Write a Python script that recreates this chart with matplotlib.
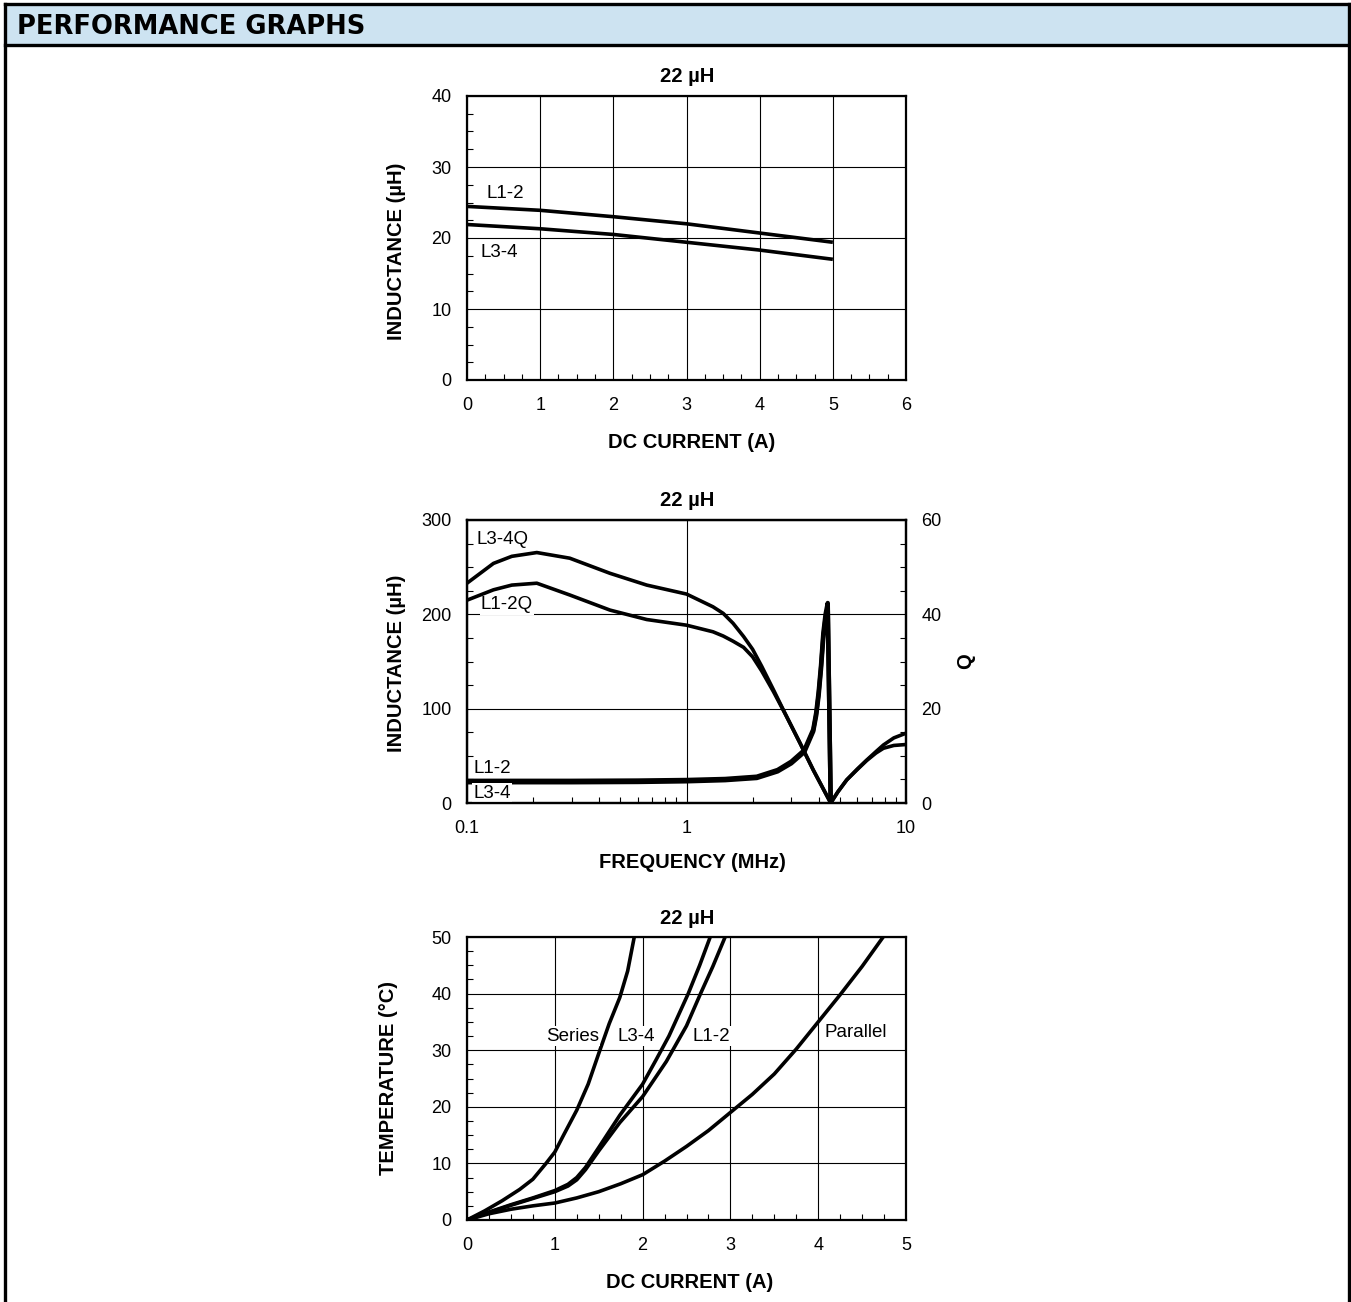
import numpy as np
from matplotlib import pyplot as plt
from matplotlib.ticker import MultipleLocator, FixedLocator, NullFormatter, LogLocator, FuncFormatter

plt.rcParams['font.family'] = ['Liberation Sans', 'DejaVu Sans']

W, H = 1351, 1302

# --- inductance vs dc current ---
idc = [0, 1, 2, 3, 4, 5]
ind_l12 = [24.45, 23.9, 23.0, 22.0, 20.7, 19.4]
ind_l34 = [21.9, 21.3, 20.5, 19.4, 18.3, 17.0]

# --- inductance / Q vs frequency (MHz) ---
f_l = [0.1, 0.3, 0.6, 1.0, 1.5, 2.09, 2.6, 3.0, 3.44, 3.78, 3.9, 4.0, 4.1, 4.2, 4.3, 4.4, 4.54]
lf_l12 = [23.5, 23.5, 23.8, 24.4, 25.5, 27.9, 35, 43.8, 56, 78, 96, 118, 146, 180, 200, 212, 0]
lf_l34 = [22.0, 22.0, 22.3, 23.0, 24.2, 26.5, 33.5, 42, 54, 76, 93, 114, 142, 175, 196, 208, 0]
f_q = [0.1, 0.132, 0.16, 0.208, 0.294, 0.448, 0.659, 1.0, 1.32, 1.47, 1.63, 1.82, 2.0, 2.2, 2.49,
       2.86, 3.29, 3.78, 4.54, 4.9, 5.37, 6.0, 6.62, 7.3, 7.89, 8.8, 10]
q_l34 = [46.6, 50.8, 52.3, 53.1, 51.9, 48.7, 46.2, 44.3, 41.6, 40.2, 38.1, 35.3, 32.6, 29.0, 24.0,
         18.3, 12.7, 7.0, 0, 2.4, 4.9, 7.2, 9.1, 10.9, 12.3, 13.8, 14.8]
q_l12 = [43.0, 45.2, 46.2, 46.6, 44.1, 40.9, 38.9, 37.7, 36.3, 35.4, 34.3, 33.0, 31.0, 28.0, 23.6,
         18.3, 12.7, 7.0, 0, 2.4, 4.9, 7.1, 9.0, 10.6, 11.6, 12.2, 12.4]

# --- temperature rise vs dc current ---
i_ser = [0, 0.2, 0.4, 0.6, 0.75, 0.9, 1.0, 1.1, 1.25, 1.38, 1.5, 1.62, 1.74, 1.83, 1.905]
t_ser = [0, 1.6, 3.4, 5.4, 7.2, 10.0, 12.0, 15.0, 19.4, 24.0, 29.4, 34.7, 39.3, 44.0, 50]
i_l34 = [0, 0.25, 0.5, 0.75, 1.0, 1.15, 1.25, 1.35, 1.5, 1.74, 2.0, 2.15, 2.3, 2.52, 2.65, 2.77]
t_l34 = [0, 1.4, 2.7, 3.9, 5.2, 6.3, 7.5, 9.3, 12.8, 18.5, 24.0, 28.2, 32.5, 40.0, 45.0, 50]
i_l12 = [0, 0.25, 0.5, 0.75, 1.0, 1.15, 1.25, 1.35, 1.5, 1.74, 2.0, 2.27, 2.5, 2.66, 2.8, 2.94]
t_l12 = [0, 1.3, 2.6, 3.8, 5.0, 6.0, 7.1, 8.9, 12.2, 17.2, 21.8, 28.0, 34.3, 40.0, 44.8, 50]
i_par = [0, 0.25, 0.5, 0.75, 1.0, 1.25, 1.5, 1.75, 2.0, 2.25, 2.5, 2.75, 3.0, 3.25, 3.5, 3.75,
         4.0, 4.25, 4.5, 4.74]
t_par = [0, 1.1, 1.9, 2.5, 3.0, 3.9, 5.0, 6.4, 8.0, 10.4, 13.0, 15.8, 19.0, 22.2, 25.8, 30.2,
         35.0, 39.8, 44.8, 50]

TITLE = '22 µH'
LW = 2.6
TICK_FS = 13
LAB_FS = 13.5
AX_FS = 14.5
box = dict(facecolor='white', edgecolor='none', pad=1)


def px(x, y):
    return x / W, 1 - y / H


def style_ticks(ax):
    ax.tick_params(axis='x', which='major', length=0, labelsize=TICK_FS, pad=12)
    ax.tick_params(axis='y', which='major', length=0, labelsize=TICK_FS, pad=11)
    ax.tick_params(which='minor', direction='in', length=4, width=0.8)


def make_ax(fig, ytop, ybot):
    l, b = px(467, ybot)
    ax = fig.add_axes([l, b, (906 - 467) / W, (ybot - ytop) / H])
    for s in ax.spines.values():
        s.set_linewidth(1.6)
    ax.grid(True, which='major', color='black', lw=0.8)
    style_ticks(ax)
    return ax


def label(ax, x, y, s):
    ax.text(x, y, s, fontsize=LAB_FS, bbox=box, va='center', ha='left', zorder=5)


fig = plt.figure(figsize=(W / 100, H / 100), dpi=100)

# page frame and header band
fig.patches.append(plt.Rectangle(px(5, 45), (1349 - 5) / W, 41 / H, transform=fig.transFigure,
                                 facecolor='#cde3f1', edgecolor='none', zorder=0))
for xs, ys in [([5, 1349], [4, 4]), ([5, 1349], [45, 45]), ([5, 5], [4, H]), ([1349, 1349], [4, H])]:
    fig.add_artist(plt.Line2D([x / W for x in xs], [1 - y / H for y in ys], color='black', lw=2.4,
                              transform=fig.transFigure))
fig.text(*px(17, 27), 'PERFORMANCE GRAPHS', fontsize=18.5, fontweight='bold', va='center', ha='left',
         family='DejaVu Sans')

# top chart
ax1 = make_ax(fig, 96, 380)
ax1.plot(idc, ind_l12, color='black', lw=LW, solid_capstyle='butt')
ax1.plot(idc, ind_l34, color='black', lw=LW, solid_capstyle='butt')
ax1.set_xlim(0, 6)
ax1.set_ylim(0, 40)
ax1.xaxis.set_major_locator(MultipleLocator(1))
ax1.yaxis.set_major_locator(MultipleLocator(10))
ax1.xaxis.set_minor_locator(MultipleLocator(0.25))
ax1.yaxis.set_minor_locator(MultipleLocator(2.5))
label(ax1, 0.26, 26.3, 'L1-2')
label(ax1, 0.19, 18.0, 'L3-4')
fig.text(*px(687, 76), TITLE, fontsize=AX_FS, fontweight='bold', ha='center', va='center')
fig.text(*px(692, 443), 'DC CURRENT (A)', fontsize=AX_FS, fontweight='bold', ha='center', va='center')
fig.text(*px(397, 251), 'INDUCTANCE (µH)', fontsize=AX_FS, fontweight='bold', ha='center', va='center',
         rotation=90)

# middle chart
ax2 = make_ax(fig, 520, 803)
ax2.set_xscale('log')
ax2.set_xlim(0.1, 10)
ax2.set_ylim(0, 300)
ax2.yaxis.set_major_locator(MultipleLocator(100))
ax2.yaxis.set_minor_locator(MultipleLocator(25))
ax2.xaxis.set_major_locator(FixedLocator([0.1, 1, 10]))
ax2.xaxis.set_major_formatter(FuncFormatter(lambda v, p: f'{v:g}'))
ax2.xaxis.set_minor_locator(LogLocator(base=10, subs=np.arange(2, 10)))
ax2.xaxis.set_minor_formatter(NullFormatter())
ax2.plot(f_l, lf_l12, color='black', lw=LW + 0.6)
ax2.plot(f_l, lf_l34, color='black', lw=LW + 0.6)
ax2q = ax2.twinx()
ax2q.set_ylim(0, 60)
ax2q.yaxis.set_major_locator(MultipleLocator(20))
ax2q.yaxis.set_minor_locator(MultipleLocator(5))
style_ticks(ax2q)
for s in ax2q.spines.values():
    s.set_linewidth(1.6)
ax2q.plot(f_q, q_l34, color='black', lw=LW)
ax2q.plot(f_q, q_l12, color='black', lw=LW)
label(ax2, 0.111, 279, 'L3-4Q')
label(ax2, 0.1158, 210, 'L1-2Q')
label(ax2, 0.1065, 37, 'L1-2')
label(ax2, 0.1065, 10.6, 'L3-4')
fig.text(*px(687, 500), TITLE, fontsize=AX_FS, fontweight='bold', ha='center', va='center')
fig.text(*px(692, 862), 'FREQUENCY (MHz)', fontsize=AX_FS, fontweight='bold', ha='center', va='center')
fig.text(*px(397, 663), 'INDUCTANCE (µH)', fontsize=AX_FS, fontweight='bold', ha='center', va='center',
         rotation=90)
fig.text(*px(966, 661), 'Q', fontsize=AX_FS, fontweight='bold', ha='center', va='center', rotation=90)

# bottom chart
ax3 = make_ax(fig, 937, 1220)
for xs, ys in [(i_ser, t_ser), (i_l34, t_l34), (i_l12, t_l12), (i_par, t_par)]:
    ax3.plot(xs, ys, color='black', lw=LW)
ax3.set_xlim(0, 5)
ax3.set_ylim(0, 50)
ax3.xaxis.set_major_locator(MultipleLocator(1))
ax3.yaxis.set_major_locator(MultipleLocator(10))
ax3.xaxis.set_minor_locator(MultipleLocator(0.25))
ax3.yaxis.set_minor_locator(MultipleLocator(2.5))
label(ax3, 0.90, 32.5, 'Series')
label(ax3, 1.71, 32.5, 'L3-4')
label(ax3, 2.57, 32.5, 'L1-2')
label(ax3, 4.07, 33.2, 'Parallel')
fig.text(*px(687, 918), TITLE, fontsize=AX_FS, fontweight='bold', ha='center', va='center')
fig.text(*px(690, 1282), 'DC CURRENT (A)', fontsize=AX_FS, fontweight='bold', ha='center', va='center')
fig.text(*px(388, 1078), 'TEMPERATURE (°C)', fontsize=AX_FS, fontweight='bold', ha='center', va='center',
         rotation=90)

fig.savefig('out.png', dpi=100)
